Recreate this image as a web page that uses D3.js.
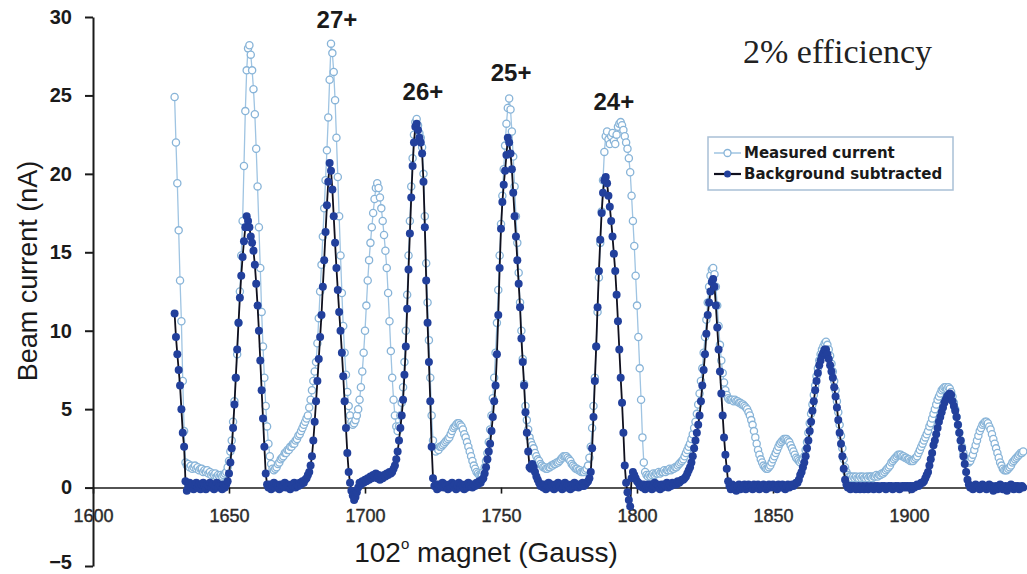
<!DOCTYPE html>
<html>
  <head>
    <meta charset="utf-8">
    <title>Charge state scan, 2% efficiency</title>
    <script src="https://cdn.jsdelivr.net/npm/d3@7"></script>
    <style>
      body { margin: 0; background: #fff; }
      svg { display: block; }
    </style>
  </head>
  <body>
    <div id="chart"></div>
    <script>
      // magnet scan grid (Gauss): first reading and step between readings
      const gaussStart = 1630;
      const gaussStep = 0.5;

      // measured beam current (nA), one row = 10 Gauss
      const measured = [
        24.9,22.0,19.4,16.4,13.2,10.6,6.8,3.6,1.6,1.4, 1.5,1.3,1.4,1.2,1.3,1.4,1.2,1.3,1.1,1.2, // 1630
        1.2,1.0,1.1,1.0,1.1,0.9,1.0,0.8,0.9,0.8, 0.9,0.7,0.8,0.7,0.8,0.7,0.8,0.9,1.0,1.3, // 1640
        1.7,2.3,3.0,4.2,5.5,7.0,8.5,10.5,12.5,14.8, 17.0,20.5,24.0,26.6,28.0,28.2,27.6,26.6,25.4,23.8, // 1650
        21.6,19.2,16.6,14.0,11.2,9.0,7.0,5.2,3.9,2.8, 2.0,1.5,1.2,1.1,1.2,1.3,1.5,1.6,1.8,1.9, // 1660
        2.0,2.2,2.2,2.4,2.4,2.6,2.6,2.8,2.8,3.0, 3.1,3.3,3.4,3.6,3.8,4.0,4.2,4.4,4.6,5.1, // 1670
        5.6,6.2,6.8,7.4,8.0,9.2,10.8,12.5,14.2,16.0, 17.8,19.6,21.5,23.6,26.0,28.3,27.7,26.5,24.7,22.3, // 1680
        19.8,17.3,14.8,12.4,10.3,8.6,7.2,6.1,5.2,4.6, 4.2,4.0,4.1,4.3,4.6,5.0,5.6,6.4,7.4,8.6, // 1690
        10.0,11.6,13.2,14.5,15.6,16.6,17.5,18.4,19.1,19.4, 19.1,18.5,17.8,17.0,16.1,15.1,14.0,12.4,10.6,8.7, // 1700
        7.0,5.6,4.6,3.9,3.6,3.9,4.6,5.4,6.4,8.0, 10.0,12.3,14.8,17.0,19.2,21.0,22.5,23.3,23.5,23.1, // 1710
        22.6,22.3,21.7,20.0,17.3,14.3,11.8,9.4,7.0,4.6, 3.0,2.4,2.3,2.5,2.4,2.6,2.6,2.7,2.8,2.9, // 1720
        3.0,3.1,3.2,3.4,3.6,3.8,3.9,4.0,4.1,4.1, 4.0,3.9,3.7,3.4,3.2,2.9,2.6,2.3,2.0,1.7, // 1730
        1.4,1.2,1.0,0.9,0.8,0.8,0.8,1.0,1.3,1.7, 2.2,2.9,3.7,4.6,5.7,7.0,8.6,10.5,12.6,14.8, // 1740
        16.8,18.6,20.3,21.8,23.2,24.2,24.8,24.1,22.7,21.1, 19.2,17.3,15.6,13.7,11.8,10.0,8.2,6.6,5.2,4.3, // 1750
        3.7,3.2,2.9,2.7,2.5,2.2,2.0,1.8,1.7,1.5, 1.4,1.3,1.3,1.2,1.2,1.3,1.3,1.4,1.4,1.5, // 1760
        1.5,1.6,1.6,1.7,1.8,1.9,2.0,2.0,2.0,1.9, 1.8,1.7,1.5,1.4,1.3,1.2,1.2,1.1,1.1,1.0, // 1770
        1.0,1.0,1.1,1.2,1.4,1.9,2.6,3.8,5.2,7.0, 9.0,11.2,13.4,15.6,17.6,19.6,21.4,22.4,22.7,22.2, // 1780
        21.9,22.4,22.6,22.1,21.9,22.5,23.0,23.2,23.3,23.1, 22.8,22.4,22.0,21.6,21.0,20.1,18.6,17.0,15.4,13.5, // 1790
        11.6,9.6,7.6,5.6,3.2,1.6,1.0,0.8,0.7,0.8, 0.7,0.8,0.9,0.8,0.9,0.9,1.0,0.9,1.0,1.0, // 1800
        1.1,1.0,1.1,1.1,1.2,1.1,1.2,1.2,1.3,1.3, 1.4,1.5,1.6,1.7,1.8,2.0,2.2,2.4,2.6,2.8, // 1810
        3.1,3.4,3.8,4.2,4.7,5.3,6.0,6.8,7.6,8.6, 9.6,10.7,11.8,12.8,13.5,13.9,14.0,13.6,12.8,11.6, // 1820
        10.3,9.1,8.1,7.3,6.7,6.2,5.9,5.7,5.6,5.6, 5.6,5.5,5.6,5.5,5.5,5.4,5.4,5.3,5.3,5.2, // 1830
        5.1,5.0,4.8,4.6,4.3,4.0,3.6,3.2,2.8,2.4, 2.1,1.8,1.6,1.4,1.3,1.2,1.2,1.3,1.4,1.6, // 1840
        1.8,2.0,2.2,2.4,2.6,2.8,2.9,3.0,3.1,3.1, 3.1,3.0,2.9,2.7,2.5,2.3,2.1,1.9,1.8,1.7, // 1850
        1.6,1.7,1.8,2.0,2.4,2.9,3.5,4.1,4.7,5.3, 5.9,6.5,7.1,7.6,8.1,8.5,8.8,9.0,9.2,9.3, // 1860
        9.1,8.8,8.4,7.9,7.4,6.8,6.2,5.5,4.8,4.0, 3.3,2.5,1.8,1.3,1.0,0.8,0.7,0.7,0.6,0.7, // 1870
        0.6,0.7,0.6,0.6,0.7,0.6,0.7,0.6,0.6,0.7, 0.6,0.7,0.7,0.6,0.7,0.7,0.8,0.7,0.8,0.8, // 1880
        0.9,0.9,1.0,1.1,1.2,1.3,1.4,1.6,1.7,1.8, 1.9,2.0,2.1,2.1,2.1,2.0,2.0,1.9,1.9,1.8, // 1890
        1.8,1.7,1.7,1.7,1.8,1.9,2.0,2.2,2.4,2.6, 2.8,3.0,3.2,3.4,3.6,3.9,4.1,4.4,4.7,5.0, // 1900
        5.3,5.6,5.8,6.0,6.2,6.3,6.4,6.4,6.3,6.4, 6.3,6.1,5.8,5.4,5.0,4.5,4.0,3.5,3.0,2.6, // 1910
        2.2,1.9,1.7,1.6,1.6,1.7,1.9,2.1,2.4,2.7, 3.0,3.3,3.6,3.8,4.0,4.1,4.2,4.2,4.1,3.9, // 1920
        3.7,3.4,3.1,2.8,2.5,2.2,1.9,1.6,1.4,1.2, 1.1,1.1,1.1,1.2,1.3,1.4,1.6,1.7,1.8,1.9, // 1930
        2.0,2.1,2.2,2.2,2.3 // 1940
      ];

      // background subtracted current (nA), same grid
      const subtracted = [
        11.1,9.6,8.5,7.5,6.5,5.0,3.5,2.6,0.4,-0.2, 0.1,0.3,0.0,0.2,-0.1,0.2,0.3,0.0,0.2,-0.1, // 1630
        0.2,0.3,0.1,-0.1,0.2,0.1,0.3,0.0,0.2,-0.1, 0.1,0.3,0.0,0.2,0.1,-0.1,0.2,0.0,0.2,0.4, // 1640
        0.9,1.6,2.5,3.8,5.3,7.0,8.8,10.5,12.1,13.5, 14.7,15.7,16.6,17.3,17.0,16.6,16.0,15.6,15.1,14.2, // 1650
        13.0,11.6,10.0,8.1,6.2,4.4,2.6,0.9,0.2,0.0, 0.2,-0.1,0.1,0.3,0.0,0.2,0.1,-0.1,0.2,0.0, // 1660
        0.1,0.3,0.0,0.2,0.1,-0.1,0.2,0.1,0.3,0.0, 0.2,0.1,0.3,0.2,0.4,0.3,0.5,0.6,0.8,1.0, // 1670
        1.4,2.0,3.0,4.2,5.5,6.8,8.2,9.6,11.0,12.8, 14.5,16.3,18.0,19.5,20.7,20.2,19.0,17.3,15.6,14.0, // 1680
        12.6,11.2,10.0,8.6,7.1,5.5,3.8,2.2,1.0,0.3, -0.2,-0.5,-0.8,-0.6,-0.3,0.0,0.3,0.2,0.4,0.3, // 1690
        0.5,0.4,0.6,0.5,0.7,0.6,0.8,0.7,0.9,0.6, 0.8,0.5,0.7,0.6,0.8,0.7,0.9,0.8,1.0,0.9, // 1700
        1.0,1.2,1.4,1.8,2.3,3.0,3.8,4.6,5.6,7.2, 9.0,11.4,13.9,16.2,18.5,20.5,22.0,23.0,23.2,22.8, // 1710
        22.3,22.0,21.3,19.5,16.6,13.2,10.5,8.0,5.5,2.6, 0.6,0.1,0.2,-0.1,0.2,0.0,0.1,0.3,0.0,0.2, // 1720
        0.1,-0.1,0.2,0.0,0.3,0.1,0.2,-0.1,0.1,0.3, 0.0,0.2,0.1,-0.1,0.2,0.0,0.3,0.1,0.2,0.0, // 1730
        0.2,0.1,0.3,0.2,0.4,0.3,0.5,0.6,0.9,1.3, 1.8,2.3,2.8,3.6,4.5,5.5,6.5,8.5,11.0,14.0, // 1740
        16.5,18.2,19.3,20.2,21.2,22.3,22.0,21.3,20.3,18.8, 17.3,16.0,14.5,13.0,11.5,9.5,8.0,6.5,4.8,3.5, // 1750
        2.3,1.3,1.2,1.5,1.3,1.0,0.7,0.5,0.3,0.1, 0.2,0.0,0.2,-0.1,0.1,0.3,0.0,0.2,0.1,-0.1, // 1760
        0.2,0.0,0.3,0.1,0.2,-0.1,0.1,0.3,0.0,0.2, 0.1,-0.1,0.2,0.0,0.3,0.1,0.2,0.0,0.2,0.1, // 1770
        0.3,0.1,0.2,0.3,0.4,0.6,1.0,2.5,4.5,6.8, 9.0,11.5,13.8,15.8,17.5,18.8,19.6,19.8,19.4,18.6, // 1780
        17.9,17.0,16.0,14.9,13.8,12.3,10.6,8.8,7.0,5.4, 3.5,1.4,0.3,-0.3,-0.8,-1.2,0.6,1.0,0.8,0.6, // 1790
        0.4,0.3,0.1,0.2,0.0,0.2,-0.1,0.1,0.2,0.0, 0.2,-0.1,0.1,0.3,0.0,0.2,0.1,-0.1,0.2,0.0, // 1800
        0.2,0.1,0.3,0.0,0.2,0.1,0.3,0.2,0.3,0.2, 0.4,0.3,0.4,0.5,0.5,0.6,0.7,0.9,1.1,1.3, // 1810
        1.6,2.0,2.5,3.0,3.5,4.0,4.6,5.5,6.5,7.5, 8.5,9.8,11.0,11.8,12.5,13.1,13.3,12.8,11.6,10.2, // 1820
        8.8,7.4,6.0,4.6,3.2,2.1,1.2,0.4,0.1,-0.1, 0.2,0.0,0.1,-0.2,0.1,0.2,-0.1,0.1,0.0,0.2, // 1830
        -0.1,0.1,0.2,0.0,0.1,-0.1,0.2,0.0,0.1,0.2, -0.1,0.1,0.0,0.2,0.1,-0.1,0.1,0.2,0.0,0.1, // 1840
        0.2,0.0,0.1,-0.1,0.2,0.1,0.0,0.2,0.1,-0.1, 0.1,0.2,0.0,0.1,0.2,0.1,0.2,0.3,0.3,0.5, // 1850
        0.8,1.0,1.3,1.6,2.0,2.5,3.0,3.6,4.2,4.9, 5.5,6.2,6.8,7.3,7.8,8.1,8.4,8.6,8.8,8.8, // 1860
        8.5,8.2,7.8,7.4,7.0,6.4,5.8,5.1,4.3,3.5, 2.8,2.0,1.2,0.5,0.2,0.0,0.1,-0.1,0.1,0.0, // 1870
        0.1,-0.1,0.0,0.1,-0.1,0.0,0.1,-0.1,0.0,0.1, -0.1,0.0,0.1,0.0,-0.1,0.1,0.0,0.1,-0.1,0.0, // 1880
        0.1,0.0,0.1,-0.1,0.0,0.1,0.0,0.1,-0.1,0.0, 0.1,0.0,0.1,-0.1,0.0,0.1,0.0,0.1,0.0,0.1, // 1890
        0.0,0.1,-0.1,0.1,0.0,0.1,0.2,0.1,0.2,0.3, 0.3,0.4,0.6,0.8,1.0,1.4,1.8,2.2,2.7,3.0, // 1900
        3.4,3.8,4.2,4.5,4.8,5.1,5.4,5.6,5.8,5.9, 6.0,5.9,5.5,5.2,4.9,4.5,4.0,3.5,3.0,2.5, // 1910
        2.0,1.5,1.0,0.5,0.2,0.0,0.1,-0.1,0.1,0.2, 0.0,0.1,-0.1,0.1,0.2,0.0,0.1,-0.1,0.1,0.2, // 1920
        0.0,0.1,-0.2,0.0,0.1,-0.1,0.0,0.2,0.1,-0.1, 0.0,0.1,-0.2,0.0,0.1,0.2,0.0,-0.1,0.1,0.0, // 1930
        0.1,-0.1,0.0,0.1,0.0 // 1940
      ];

      const seriesNames = ["Measured current", "Background subtracted"];
      const xTicks = [1600, 1650, 1700, 1750, 1800, 1850, 1900];
      const yTicks = [-5, 0, 5, 10, 15, 20, 25, 30];

      // charge state labels, placed at (Gauss, nA)
      const peakLabels = ["27+", "26+", "25+", "24+"];
      const peakGauss = [1689.7, 1721.3, 1753.7, 1791.5];
      const peakLevel = [29.3, 24.7, 25.9, 24.1];

      const width = 1027, height = 574;
      const sans = "'Liberation Sans', Arial, sans-serif";

      const svg = d3.select("#chart")
        .append("svg")
        .attr("width", width)
        .attr("height", height);
      svg.append("rect")
        .attr("width", width)
        .attr("height", height)
        .attr("fill", "#fff");

      const x = d3.scaleLinear().domain([1600, 1950]).range([93, 1045]);
      const y = d3.scaleLinear().domain([-5, 30]).range([566, 17]);

      // axes
      const yAxis = svg.append("g")
        .attr("transform", "translate(93,0)")
        .call(d3.axisLeft(y).tickValues(yTicks).tickSize(8).tickSizeOuter(0).tickPadding(13));
      yAxis.select(".domain").attr("stroke", "#1a1a1a").attr("stroke-width", 2);
      yAxis.selectAll(".tick line").attr("stroke", "#1a1a1a").attr("stroke-width", 2);
      yAxis.selectAll("text")
        .attr("font-family", sans)
        .attr("font-size", 20)
        .attr("font-weight", "bold")
        .attr("fill", "#1a1a1a");
      // bottom label sits on the page edge, nudge it up a little
      yAxis.selectAll(".tick text").filter(d => d === -5).attr("dy", "0.1em");

      const xAxis = svg.append("g")
        .attr("transform", `translate(0,${y(0)})`)
        .call(d3.axisBottom(x).tickValues(xTicks).tickFormat(d3.format("d"))
          .tickSize(6).tickSizeOuter(0).tickPadding(16));
      xAxis.select(".domain").attr("stroke", "#1a1a1a").attr("stroke-width", 1.6);
      xAxis.selectAll(".tick line").attr("stroke", "#1a1a1a").attr("stroke-width", 1.6);
      xAxis.selectAll("text")
        .attr("font-family", sans)
        .attr("font-size", 18)
        .attr("fill", "#2a2a2a")
        .attr("stroke", "#2a2a2a")
        .attr("stroke-width", 0.4);

      // series
      const toPoints = arr => arr.map((v, i) => [gaussStart + i * gaussStep, v]);
      const line = d3.line().x(d => x(d[0])).y(d => y(d[1]));
      const measuredPts = toPoints(measured);
      const subtractedPts = toPoints(subtracted);

      svg.append("path")
        .datum(measuredPts)
        .attr("fill", "none")
        .attr("stroke", "#9fc4e2")
        .attr("stroke-width", 1.3)
        .attr("d", line);
      svg.append("g")
        .selectAll("circle")
        .data(measuredPts)
        .join("circle")
        .attr("cx", d => x(d[0]))
        .attr("cy", d => y(d[1]))
        .attr("r", 3.6)
        .attr("fill", "#fff")
        .attr("stroke", "#88b4d8")
        .attr("stroke-width", 1.3);

      svg.append("path")
        .datum(subtractedPts)
        .attr("fill", "none")
        .attr("stroke", "#10101e")
        .attr("stroke-width", 1.8)
        .attr("d", line);
      svg.append("g")
        .selectAll("circle")
        .data(subtractedPts)
        .join("circle")
        .attr("cx", d => x(d[0]))
        .attr("cy", d => y(d[1]))
        .attr("r", 4)
        .attr("fill", "#22409c");

      // charge state labels
      svg.append("g")
        .selectAll("text")
        .data(peakLabels)
        .join("text")
        .attr("x", (d, i) => x(peakGauss[i]))
        .attr("y", (d, i) => y(peakLevel[i]))
        .attr("text-anchor", "middle")
        .attr("font-family", sans)
        .attr("font-size", 24)
        .attr("font-weight", "bold")
        .attr("fill", "#1a1a1a")
        .text(d => d);

      svg.append("text")
        .attr("x", 743)
        .attr("y", 63)
        .attr("font-family", "'Liberation Serif', 'Times New Roman', serif")
        .attr("font-size", 34)
        .attr("fill", "#222")
        .text("2% efficiency");

      // axis titles
      svg.append("text")
        .attr("transform", "translate(28,271) rotate(-90)")
        .attr("text-anchor", "middle")
        .attr("dominant-baseline", "central")
        .attr("font-family", sans)
        .attr("font-size", 27)
        .attr("fill", "#1a1a1a")
        .text("Beam current (nA)");

      const xTitle = svg.append("text")
        .attr("x", 486)
        .attr("y", 562)
        .attr("text-anchor", "middle")
        .attr("font-family", sans)
        .attr("font-size", 28)
        .attr("fill", "#1a1a1a");
      xTitle.append("tspan").text("102");
      xTitle.append("tspan").attr("font-size", 15).attr("dy", -13).text("o");
      xTitle.append("tspan").attr("dy", 13).text(" magnet (Gauss)");

      // legend
      const legend = svg.append("g").attr("transform", "translate(708,137)");
      legend.append("rect")
        .attr("width", 245)
        .attr("height", 53)
        .attr("fill", "#fff")
        .attr("stroke", "#a9c0d6")
        .attr("stroke-width", 1.5);
      const rows = legend.selectAll("g.row")
        .data(seriesNames)
        .join("g")
        .attr("class", "row")
        .attr("transform", (d, i) => `translate(0,${16 + i * 21})`);
      rows.append("line")
        .attr("x1", 6).attr("x2", 33)
        .attr("stroke", (d, i) => i === 0 ? "#9fc4e2" : "#10101e")
        .attr("stroke-width", (d, i) => i === 0 ? 1.5 : 2.2);
      rows.append("circle")
        .attr("cx", 19.5)
        .attr("r", 3.5)
        .attr("fill", (d, i) => i === 0 ? "#fff" : "#22409c")
        .attr("stroke", (d, i) => i === 0 ? "#88b4d8" : "none")
        .attr("stroke-width", 1.3);
      rows.append("text")
        .attr("x", 36)
        .attr("dominant-baseline", "central")
        .attr("font-family", "'DejaVu Sans', Verdana, sans-serif")
        .attr("font-size", 15)
        .attr("font-weight", "bold")
        .attr("fill", "#1a1a1a")
        .text(d => d);
    </script>
  </body>
</html>
